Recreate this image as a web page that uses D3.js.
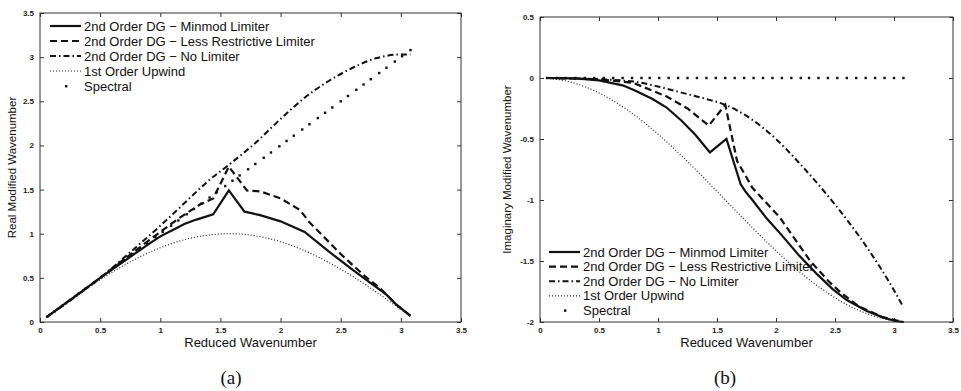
<!DOCTYPE html>
<html>
<head>
<meta charset="utf-8">
<script src="https://cdn.jsdelivr.net/npm/d3@7"></script>
<style>
  body { margin: 0; background: #fff; }
  svg { display: block; }
  .tick text { font-family: "Liberation Sans", Arial, sans-serif; font-size: 8px; font-weight: bold; fill: #222; }
  .tick line { stroke: #333; }
  .domain { display: none; }
</style>
</head>
<body>
<svg width="961" height="391"></svg>
<script>
// Data: [reduced wavenumber, modified wavenumber]
const minmodReal = [[0.06,0.06],[0.3,0.3],[0.5,0.5],[0.7,0.69],[0.9,0.88],[1.0,0.97],[1.1,1.04],[1.2,1.11],[1.3,1.16],[1.44,1.22],[1.57,1.49],[1.70,1.25],[1.83,1.21],[2.0,1.14],[2.2,1.02],[2.4,0.80],[2.6,0.59],[2.75,0.44],[2.88,0.31],[2.96,0.2],[3.08,0.07]];
const lessRestrReal = [[0.06,0.06],[0.5,0.5],[0.7,0.71],[0.9,0.92],[1.0,1.02],[1.16,1.18],[1.33,1.33],[1.44,1.40],[1.57,1.76],[1.72,1.49],[1.83,1.48],[2.0,1.40],[2.16,1.27],[2.24,1.13],[2.5,0.77],[2.7,0.52],[2.83,0.38],[2.88,0.31],[2.96,0.2],[3.08,0.07]];
const noLimiterReal = [[0.06,0.06],[0.5,0.5],[0.75,0.79],[1.0,1.09],[1.25,1.41],[1.4,1.60],[1.57,1.78],[1.8,2.04],[2.0,2.30],[2.2,2.54],[2.4,2.73],[2.6,2.88],[2.8,2.99],[3.0,3.03],[3.08,3.03]];
const upwindReal = [[0.06,0.06],[0.2,0.2],[0.4,0.39],[0.6,0.565],[0.8,0.717],[1.0,0.841],[1.2,0.932],[1.4,0.985],[1.57,1.0],[1.8,0.974],[2.0,0.909],[2.2,0.808],[2.4,0.675],[2.6,0.516],[2.8,0.335],[3.0,0.141],[3.08,0.062]];
const spectralReal = [[0.06,0.06],[0.12,0.12],[0.19,0.19],[0.25,0.25],[0.32,0.32],[0.38,0.38],[0.45,0.45],[0.51,0.51],[0.57,0.57],[0.64,0.64],[0.70,0.70],[0.77,0.77],[0.83,0.83],[0.89,0.89],[0.96,0.96],[1.02,1.02],[1.09,1.09],[1.15,1.15],[1.22,1.22],[1.28,1.28],[1.34,1.34],[1.41,1.41],[1.47,1.47],[1.54,1.54],[1.60,1.60],[1.66,1.66],[1.73,1.73],[1.79,1.79],[1.86,1.86],[1.92,1.92],[1.99,1.99],[2.05,2.05],[2.11,2.11],[2.18,2.18],[2.24,2.24],[2.31,2.31],[2.37,2.37],[2.43,2.43],[2.50,2.50],[2.56,2.56],[2.63,2.63],[2.69,2.69],[2.75,2.75],[2.82,2.82],[2.88,2.88],[2.95,2.95],[3.01,3.01],[3.08,3.08]];

const minmodImag = [[0.06,0],[0.3,-0.003],[0.5,-0.02],[0.7,-0.06],[0.8,-0.10],[0.95,-0.17],[1.07,-0.24],[1.2,-0.35],[1.32,-0.47],[1.44,-0.61],[1.58,-0.50],[1.70,-0.87],[1.74,-0.93],[1.8,-1.0],[1.92,-1.15],[2.05,-1.29],[2.2,-1.46],[2.35,-1.61],[2.48,-1.73],[2.6,-1.82],[2.77,-1.91],[2.9,-1.96],[3.0,-1.99],[3.08,-2.0]];
const lessRestrImag = [[0.06,0],[0.5,-0.01],[0.79,-0.04],[1.07,-0.15],[1.25,-0.25],[1.43,-0.39],[1.57,-0.22],[1.67,-0.68],[1.8,-0.90],[2.03,-1.14],[2.29,-1.50],[2.45,-1.67],[2.55,-1.76],[2.7,-1.87],[2.9,-1.96],[3.08,-2.0]];
const noLimiterImag = [[0.06,0],[0.5,-0.01],[0.8,-0.03],[1.0,-0.07],[1.2,-0.12],[1.4,-0.17],[1.57,-0.22],[1.78,-0.33],[2.0,-0.50],[2.2,-0.70],[2.4,-0.92],[2.6,-1.16],[2.8,-1.43],[3.0,-1.74],[3.08,-1.88]];
const upwindImag = [[0.06,-0.002],[0.2,-0.02],[0.4,-0.079],[0.6,-0.175],[0.8,-0.303],[1.0,-0.46],[1.2,-0.638],[1.4,-0.83],[1.57,-1.0],[1.8,-1.227],[2.0,-1.416],[2.2,-1.589],[2.4,-1.737],[2.6,-1.857],[2.8,-1.942],[3.0,-1.99],[3.08,-1.998]];
const spectralImag = [[0.06,0],[0.14,0],[0.22,0],[0.30,0],[0.38,0],[0.46,0],[0.54,0],[0.62,0],[0.70,0],[0.78,0],[0.86,0],[0.93,0],[1.01,0],[1.09,0],[1.17,0],[1.25,0],[1.33,0],[1.41,0],[1.49,0],[1.57,0],[1.65,0],[1.73,0],[1.81,0],[1.89,0],[1.97,0],[2.05,0],[2.13,0],[2.21,0],[2.28,0],[2.36,0],[2.44,0],[2.52,0],[2.60,0],[2.68,0],[2.76,0],[2.84,0],[2.92,0],[3.00,0],[3.08,0]];

const legendLabels = ["2nd Order DG \u2212 Minmod Limiter", "2nd Order DG \u2212 Less Restrictive Limiter", "2nd Order DG \u2212 No Limiter", "1st Order Upwind", "Spectral"];
const xTicks = [0, 0.5, 1, 1.5, 2, 2.5, 3, 3.5];
const yTicksReal = [0, 0.5, 1, 1.5, 2, 2.5, 3, 3.5];
const yTicksImag = [-2, -1.5, -1, -0.5, 0, 0.5];

const svg = d3.select('svg');
const font = '"Liberation Sans", Arial, sans-serif';

// line styles: solid, dashed, dash-dot, dotted
const styles = [
    { dash: null, width: 2.2, curve: d3.curveLinear },
    { dash: "7,4", width: 2.2, curve: d3.curveLinear },
    { dash: "6,3,1.5,3", width: 2, curve: d3.curveMonotoneX },
    { dash: "1,2", width: 1.2, curve: d3.curveMonotoneX }
];

function drawPanel(cfg) {
    const x = d3.scaleLinear().domain([0, 3.5]).range([cfg.left, cfg.right]);
    const y = d3.scaleLinear().domain(cfg.yDomain).range([cfg.bottom, cfg.top]);
    const g = svg.append('g');
    const fmt = d => String(d);

    g.append('g').attr('transform', `translate(0,${cfg.bottom})`)
        .call(d3.axisBottom(x).tickValues(xTicks).tickFormat(fmt).tickSize(-4).tickPadding(5));
    g.append('g').attr('transform', `translate(0,${cfg.top})`)
        .call(d3.axisTop(x).tickValues(xTicks).tickFormat('').tickSize(-4));
    g.append('g').attr('transform', `translate(${cfg.left},0)`)
        .call(d3.axisLeft(y).tickValues(cfg.yTicks).tickFormat(fmt).tickSize(-4).tickPadding(6));
    g.append('g').attr('transform', `translate(${cfg.right},0)`)
        .call(d3.axisRight(y).tickValues(cfg.yTicks).tickFormat('').tickSize(-4));

    g.append('rect')
        .attr('x', cfg.left).attr('y', cfg.top)
        .attr('width', cfg.right - cfg.left).attr('height', cfg.bottom - cfg.top)
        .attr('fill', 'none').attr('stroke', '#333').attr('stroke-width', 1);

    cfg.series.forEach((data, i) => {
        const s = styles[i];
        g.append('path')
            .datum(data)
            .attr('fill', 'none')
            .attr('stroke', i === 3 ? '#222' : '#111')
            .attr('stroke-width', s.width)
            .attr('stroke-dasharray', s.dash)
            .attr('d', d3.line().x(d => x(d[0])).y(d => y(d[1])).curve(s.curve));
    });

    g.append('g').selectAll('rect')
        .data(cfg.spectral)
        .enter().append('rect')
        .attr('x', d => x(d[0]) - 1.2)
        .attr('y', d => y(d[1]) - 1.2)
        .attr('width', 2.4).attr('height', 2.4)
        .attr('fill', '#111');

    // legend
    const lg = g.append('g');
    legendLabels.forEach((label, i) => {
        const ly = cfg.legendY + i * cfg.legendStep;
        if (i < 4) {
            const s = styles[i];
            lg.append('line')
                .attr('x1', cfg.legendX).attr('x2', cfg.legendX + 31)
                .attr('y1', ly).attr('y2', ly)
                .attr('stroke', i === 3 ? '#222' : '#111')
                .attr('stroke-width', s.width)
                .attr('stroke-dasharray', s.dash);
        } else {
            lg.append('rect')
                .attr('x', cfg.legendX + 15).attr('y', ly - 1)
                .attr('width', 2.4).attr('height', 2.4).attr('fill', '#111');
        }
        lg.append('text')
            .attr('x', cfg.legendX + 34).attr('y', ly)
            .attr('dy', '0.35em')
            .style('font-family', font).style('font-size', '13px')
            .attr('fill', '#111')
            .text(label);
    });

    g.append('text')
        .attr('x', (cfg.left + cfg.right) / 2).attr('y', 347)
        .attr('text-anchor', 'middle')
        .style('font-family', font).style('font-size', '13px')
        .attr('fill', '#111')
        .text('Reduced Wavenumber');

    g.append('text')
        .attr('transform', `translate(${cfg.yLabelX},${(cfg.top + cfg.bottom) / 2}) rotate(-90)`)
        .attr('text-anchor', 'middle')
        .attr('dy', '0.35em')
        .style('font-family', font).style('font-size', '11.5px')
        .attr('fill', '#111')
        .text(cfg.yLabel);

    g.append('text')
        .attr('x', cfg.captionX).attr('y', 384)
        .attr('text-anchor', 'middle')
        .style('font-family', '"Liberation Serif", "DejaVu Serif", serif').style('font-size', '19px')
        .attr('fill', '#111')
        .text(cfg.caption);
}

drawPanel({
    left: 40, right: 461, top: 13, bottom: 322,
    yDomain: [0, 3.5], yTicks: yTicksReal,
    series: [minmodReal, lessRestrReal, noLimiterReal, upwindReal],
    spectral: spectralReal,
    legendX: 50, legendY: 26, legendStep: 15,
    yLabel: 'Real Modified Wavenumber', yLabelX: 12,
    caption: '(a)', captionX: 231
});

drawPanel({
    left: 540, right: 953, top: 17, bottom: 322,
    yDomain: [-2, 0.5], yTicks: yTicksImag,
    series: [minmodImag, lessRestrImag, noLimiterImag, upwindImag],
    spectral: spectralImag,
    legendX: 549, legendY: 252, legendStep: 14.6,
    yLabel: 'Imaginary Modified Wavenumber', yLabelX: 507,
    caption: '(b)', captionX: 725
});
</script>
</body>
</html>
